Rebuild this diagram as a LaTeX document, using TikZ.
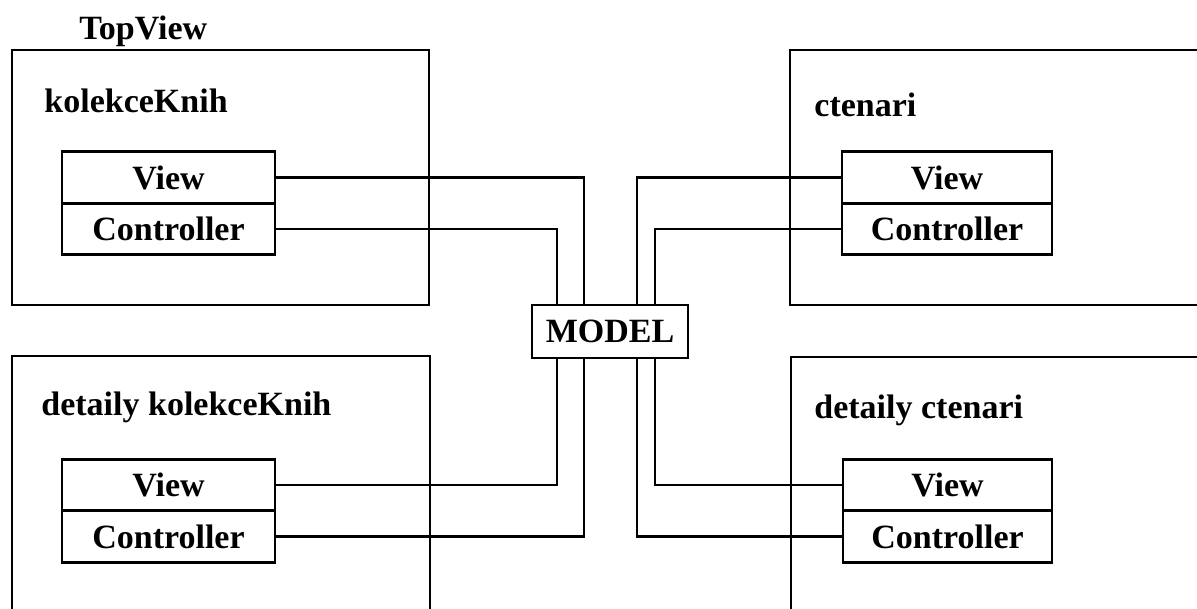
\documentclass[tikz,border=0pt]{standalone}
\usepackage{fontspec}
\setmainfont{Liberation Serif}
\usetikzlibrary{positioning}
\begin{document}
\begin{tikzpicture}[x=1pt, y=-1pt, line width=2.8pt,
    every node/.style={font=\fontsize{34}{40}\selectfont\bfseries},
    part/.style={draw, minimum height=51.5pt, inner sep=0pt, outer sep=0pt},
    title/.style={anchor=base west, inner sep=0pt}]
    \useasboundingbox (0,0) rectangle (1197,609);
    \clip (0,0) rectangle (1197,609);
    \draw (12,50) rectangle (429,305);
    \draw (790,50) rectangle (1215,305);
    \draw (12,356) rectangle (430,625);
    \draw (791,357) rectangle (1215,625);
    \node[title] (topview) at (78,40) {TopView};
    \node[title] (kk) at (43,113) {kolekceKnih};
    \node[title] (ct) at (813,117) {ctenari};
    \node[title] (dk) at (40,416) {detaily kolekceKnih};
    \node[title] (dc) at (813,419) {detaily ctenari};
    \node[part, minimum width=213pt] (kkview) at (168.5,177.5) {View};
    \node[part, minimum width=213pt, below=0pt of kkview] (kkctrl) {Controller};
    \node[part, minimum width=210pt] (ctview) at (947,177.5) {View};
    \node[part, minimum width=210pt, below=0pt of ctview] (ctctrl) {Controller};
    \node[part, minimum width=213pt] (dkview) at (168.5,485) {View};
    \node[part, minimum width=213pt, below=0pt of dkview] (dkctrl) {Controller};
    \node[part, minimum width=209pt] (dcview) at (947.5,485) {View};
    \node[part, minimum width=209pt, below=0pt of dcview] (dcctrl) {Controller};
    \node[part, minimum width=156pt, minimum height=53pt] (model) at (610,331.5) {MODEL};
    \draw (kkview.east) -| ([xshift=-26pt]model.north);
    \draw (kkctrl.east) -| ([xshift=-53pt]model.north);
    \draw (ctview.west) -| ([xshift=27pt]model.north);
    \draw (ctctrl.west) -| ([xshift=45pt]model.north);
    \draw (dkview.east) -| ([xshift=-53pt]model.south);
    \draw (dkctrl.east) -| ([xshift=-26pt]model.south);
    \draw (dcview.west) -| ([xshift=45pt]model.south);
    \draw (dcctrl.west) -| ([xshift=27pt]model.south);
\end{tikzpicture}
\end{document}
